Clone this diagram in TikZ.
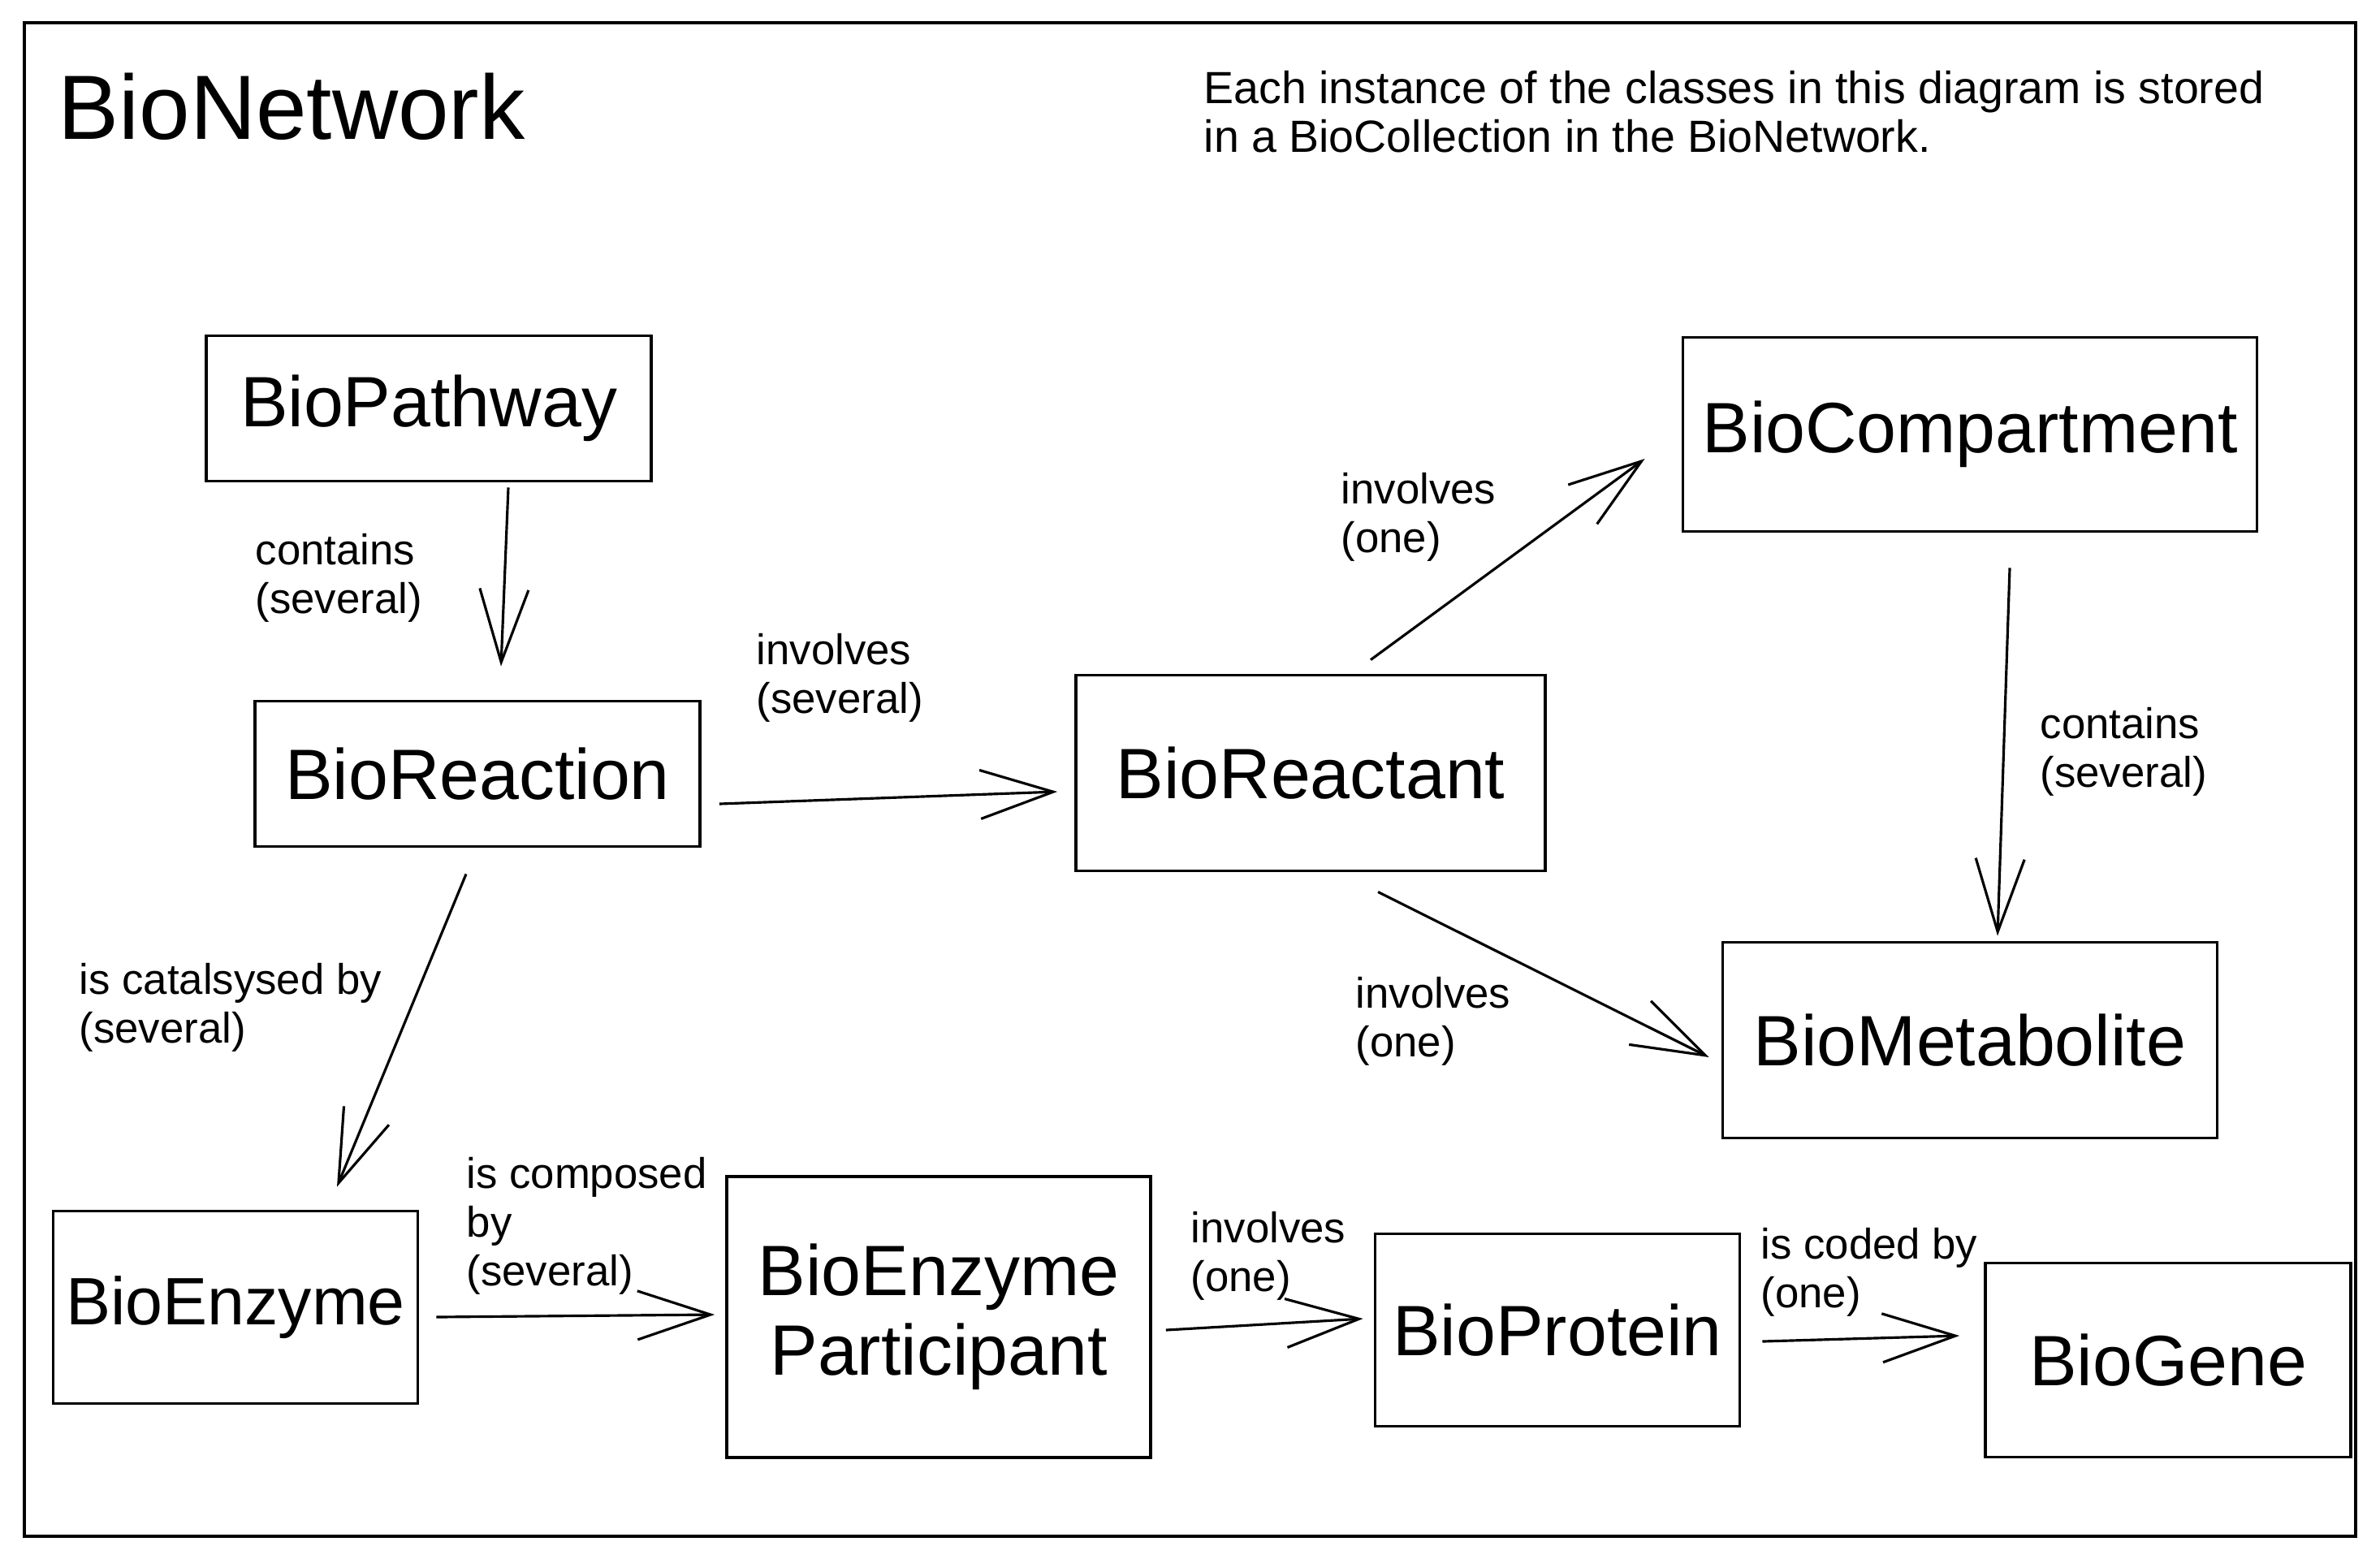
\documentclass[tikz,border=0pt]{standalone}
\usepackage{fontspec}
\setmainfont{Liberation Sans}
\usetikzlibrary{calc,arrows.meta}

\begin{document}
\begin{tikzpicture}[
    cls/.style={draw, line width=1.1pt, inner sep=2pt, align=center, font=\fontsize{25}{28}\selectfont},
    rel/.style={-{Straight Barb[length=0.9cm, width=0.6cm, line width=0.9pt]}, line width=0.9pt},
    lbl/.style={anchor=west, align=left, inner sep=0pt, font=\fontsize{15}{17}\selectfont}
]
  \useasboundingbox (0,0) rectangle (29.31,-19.19);

  % Frame and heading
  \draw[line width=1.3pt] (0.30,-0.28) rectangle (29.01,-18.92);
  \node[anchor=west, inner sep=0pt, font=\fontsize{32}{36}\selectfont] (title) at (0.71,-1.31) {BioNetwork};
  \node[lbl, font=\fontsize{15.8}{17}\selectfont] (note) at (14.82,-1.38) {Each instance of the classes in this diagram is stored\\in a BioCollection in the BioNetwork.};

  % Classes
  \node[cls, minimum width=5.48cm, minimum height=1.79cm] (pathway) at (5.28,-5.03) {BioPathway};
  \node[cls, minimum width=5.48cm, minimum height=1.79cm] (reaction) at (5.88,-9.53) {BioReaction};
  \node[cls, minimum width=5.78cm, minimum height=2.41cm] (reactant) at (16.14,-9.52) {BioReactant};
  \node[cls, minimum width=7.07cm, minimum height=2.39cm] (compartment) at (24.26,-5.35) {BioCompartment};
  \node[cls, minimum width=6.09cm, minimum height=2.41cm] (metabolite) at (24.26,-12.81) {BioMetabolite};
  \node[cls, minimum width=4.49cm, minimum height=2.37cm, font=\fontsize{23.5}{28}\selectfont] (enzyme) at (2.90,-16.10) {BioEnzyme};
  \node[cls, minimum width=5.22cm, minimum height=3.46cm] (participant) at (11.56,-16.22) {BioEnzyme\\Participant};
  \node[cls, minimum width=4.49cm, minimum height=2.37cm] (protein) at (19.18,-16.38) {BioProtein};
  \node[cls, minimum width=4.50cm, minimum height=2.39cm] (gene) at (26.70,-16.75) {BioGene};

  % Relations
  \draw[rel] ($(pathway.south)+(0.98,-0.06)$) -- ($(reaction.north)+(0.29,0.41)$);
  \draw[rel] ($(reaction.east)+(0.22,-0.37)$) -- ($(reactant.west)+(-0.21,-0.23)$);
  \draw[rel] ($(reactant.north)+(0.74,0.17)$) -- ($(compartment.west)+(-0.45,-0.30)$);
  \draw[rel] ($(reactant.south)+(0.83,-0.24)$) -- ($(metabolite.west)+(-0.15,-0.21)$);
  \draw[rel] ($(compartment.south)+(0.49,-0.43)$) -- ($(metabolite.north)+(0.34,0.06)$);
  \draw[rel] ($(reaction.south)+(-0.14,-0.32)$) -- ($(enzyme.north)+(1.25,0.28)$);
  \draw[rel] ($(enzyme.east)+(0.21,-0.12)$) -- ($(participant.west)+(-0.13,0.03)$);
  \draw[rel] ($(participant.east)+(0.17,-0.16)$) -- ($(protein.west)+(-0.13,0.14)$);
  \draw[rel] ($(protein.east)+(0.26,-0.14)$) -- ($(gene.west)+(-0.30,0.30)$);

  % Relation labels
  \node[lbl] (l-contains) at (3.14,-7.12) {contains\\(several)};
  \node[lbl] (l-involves) at (9.31,-8.35) {involves\\(several)};
  \node[lbl] (l-compart) at (16.51,-6.37) {involves\\(one)};
  \node[lbl] (l-metab) at (16.69,-12.58) {involves\\(one)};
  \node[lbl] (l-holds) at (25.12,-9.26) {contains\\(several)};
  \node[lbl] (l-catal) at (0.97,-12.41) {is catalsysed by\\(several)};
  \node[lbl] (l-composed) at (5.74,-15.10) {is composed\\by\\(several)};
  \node[lbl] (l-protein) at (14.66,-15.47) {involves\\(one)};
  \node[lbl] (l-coded) at (21.68,-15.67) {is coded by\\(one)};
\end{tikzpicture}
\end{document}
